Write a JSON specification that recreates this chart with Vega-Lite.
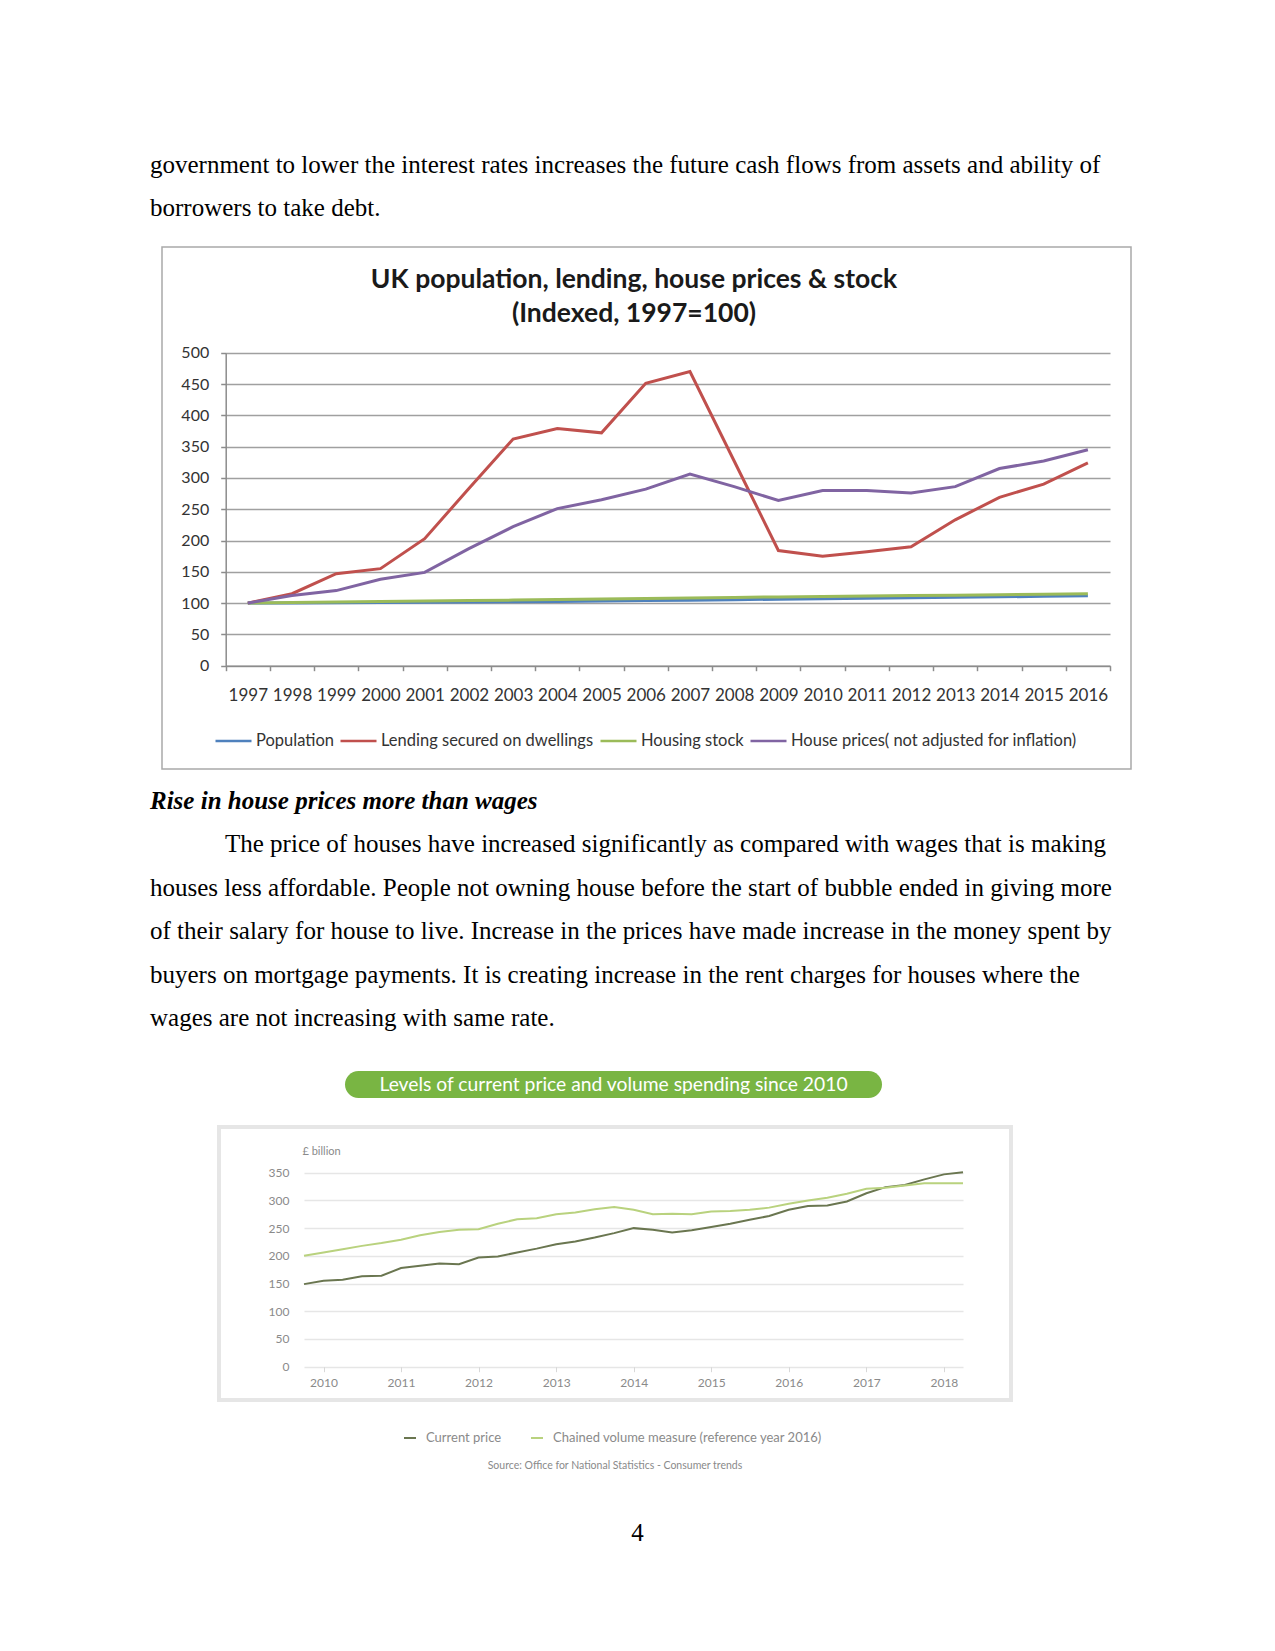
{
  "$schema": "https://vega.github.io/schema/vega-lite/v6.json",
  "padding": 0,
  "background": "white",
  "config": {"view": {"stroke": null}},
  "spacing": 0,
  "bounds": "full",
  "resolve": {"scale": {"color": "independent"}, "legend": {"color": "independent"}},
  "vconcat": [
    {
      "width": 1275, "height": 246,
      "data": {"values": [{}]},
      "mark": {"type": "text"},
      "encoding": {"text": {"value": ""}},
      "title": {
        "text": ["government to lower the interest rates increases the future cash flows from assets and ability of", "borrowers to take debt."],
        "anchor": "start", "frame": "group", "orient": "top", "offset": 0, "baseline": "top",
        "dx": 150, "dy": 221,
        "font": "Liberation Serif", "fontSize": 25, "fontWeight": "normal", "color": "#000000", "lineHeight": 43.5
      }
    },
    {
      "spacing": 0, "bounds": "flush",
      "resolve": {"scale": {"color": "independent"}, "legend": {"color": "independent"}},
      "hconcat": [
        {"width": 162, "height": 522, "data": {"values": [{}]}, "mark": {"type": "text"}, "encoding": {"text": {"value": ""}}},
        {
          "width": 969, "height": 522,
          "view": {"stroke": "#a9a9a9", "strokeWidth": 1.5},
          "title": {
            "text": ["UK population,  lending, house prices & stock", "(Indexed, 1997=100)"],
            "anchor": "middle", "frame": "group", "orient": "top", "offset": 0, "baseline": "top",
            "dx": -12.5, "dy": 80.5,
            "font": "Lato", "fontSize": 26.5, "fontWeight": "bold", "color": "#1a1a1a", "lineHeight": 34
          },
          "data": {"values": [
            {"year": 1997, "Population": 100, "Lending secured on dwellings": 100, "Housing stock": 100, "House prices( not adjusted for inflation)": 100},
            {"year": 1998, "Population": 100.3, "Lending secured on dwellings": 115, "Housing stock": 100.8, "House prices( not adjusted for inflation)": 112},
            {"year": 1999, "Population": 100.7, "Lending secured on dwellings": 147, "Housing stock": 101.6, "House prices( not adjusted for inflation)": 120},
            {"year": 2000, "Population": 101.0, "Lending secured on dwellings": 155, "Housing stock": 102.4, "House prices( not adjusted for inflation)": 138},
            {"year": 2001, "Population": 101.4, "Lending secured on dwellings": 203, "Housing stock": 103.2, "House prices( not adjusted for inflation)": 149},
            {"year": 2002, "Population": 101.8, "Lending secured on dwellings": 283, "Housing stock": 104.0, "House prices( not adjusted for inflation)": 187},
            {"year": 2003, "Population": 102.2, "Lending secured on dwellings": 362, "Housing stock": 104.8, "House prices( not adjusted for inflation)": 222},
            {"year": 2004, "Population": 102.7, "Lending secured on dwellings": 379, "Housing stock": 105.6, "House prices( not adjusted for inflation)": 251},
            {"year": 2005, "Population": 103.3, "Lending secured on dwellings": 372, "Housing stock": 106.4, "House prices( not adjusted for inflation)": 265},
            {"year": 2006, "Population": 104.0, "Lending secured on dwellings": 451, "Housing stock": 107.3, "House prices( not adjusted for inflation)": 282},
            {"year": 2007, "Population": 104.7, "Lending secured on dwellings": 470, "Housing stock": 108.2, "House prices( not adjusted for inflation)": 306},
            {"year": 2008, "Population": 105.5, "Lending secured on dwellings": 327, "Housing stock": 109.1, "House prices( not adjusted for inflation)": 286},
            {"year": 2009, "Population": 106.2, "Lending secured on dwellings": 184, "Housing stock": 109.9, "House prices( not adjusted for inflation)": 264},
            {"year": 2010, "Population": 107.0, "Lending secured on dwellings": 175, "Housing stock": 110.6, "House prices( not adjusted for inflation)": 280},
            {"year": 2011, "Population": 107.8, "Lending secured on dwellings": 182, "Housing stock": 111.3, "House prices( not adjusted for inflation)": 280},
            {"year": 2012, "Population": 108.5, "Lending secured on dwellings": 190, "Housing stock": 112.0, "House prices( not adjusted for inflation)": 276},
            {"year": 2013, "Population": 109.2, "Lending secured on dwellings": 233, "Housing stock": 112.7, "House prices( not adjusted for inflation)": 286},
            {"year": 2014, "Population": 110.0, "Lending secured on dwellings": 269, "Housing stock": 113.4, "House prices( not adjusted for inflation)": 315},
            {"year": 2015, "Population": 110.9, "Lending secured on dwellings": 290, "Housing stock": 114.2, "House prices( not adjusted for inflation)": 327},
            {"year": 2016, "Population": 111.8, "Lending secured on dwellings": 324, "Housing stock": 115.0, "House prices( not adjusted for inflation)": 345}
          ]},
          "transform": [{"fold": ["Population", "Lending secured on dwellings", "Housing stock", "House prices( not adjusted for inflation)"], "as": ["series", "value"]}],
          "mark": {"type": "line", "strokeWidth": 3},
          "encoding": {
            "x": {
              "field": "year", "type": "ordinal", "bandPosition": 0.5,
              "scale": {"type": "band", "range": [63.7, 948], "paddingInner": 0, "paddingOuter": 0},
              "axis": {"orient": "bottom", "offset": -103.3, "tickBand": "extent", "title": null, "labelAngle": 0,
                       "labelFont": "Lato", "labelFontSize": 17, "labelColor": "#333333", "labelPadding": 17,
                       "tickSize": 5, "tickColor": "#8c8c8c", "tickWidth": 1.5, "domainColor": "#8c8c8c", "domainWidth": 1.5, "grid": false}
            },
            "y": {
              "field": "value", "type": "quantitative",
              "scale": {"domain": [0, 500], "range": [418.7, 105.7], "nice": false},
              "axis": {"orient": "left", "offset": -63.7, "values": [0, 50, 100, 150, 200, 250, 300, 350, 400, 450, 500], "title": null,
                       "labelFont": "Lato", "labelFontSize": 16, "labelColor": "#333333", "labelPadding": 12,
                       "tickSize": 5, "tickColor": "#8c8c8c", "tickWidth": 1.5, "domainColor": "#8c8c8c", "domainWidth": 1.5,
                       "grid": true, "gridColor": "#a0a0a0", "gridWidth": 1.5}
            },
            "color": {
              "field": "series", "type": "nominal",
              "scale": {"domain": ["Population", "Lending secured on dwellings", "Housing stock", "House prices( not adjusted for inflation)"],
                        "range": ["#4F81BD", "#C0504D", "#9BBB59", "#8064A2"]},
              "legend": {"orient": "none", "legendX": 52, "legendY": 474.5, "direction": "horizontal", "title": null,
                         "symbolType": "stroke", "symbolSize": 1296, "symbolStrokeWidth": 2.5,
                         "labelFont": "Lato", "labelFontSize": 16.5, "labelColor": "#333333", "labelOffset": 3, "columnPadding": 1, "labelLimit": 400}
            }
          }
        }
      ]
    },
    {
      "width": 1275, "height": 301,
      "data": {"values": [{}]},
      "mark": {"type": "text"},
      "encoding": {"text": {"value": ""}},
      "title": {
        "text": "Rise in house prices more than wages",
        "subtitle": [
          "\u200b\u00a0\u00a0\u00a0\u00a0\u00a0\u00a0\u00a0\u00a0\u00a0\u00a0\u00a0\u00a0The price of houses have increased significantly as compared with wages that is making",
          "houses less affordable. People not owning house before the start of bubble ended in giving more",
          "of their salary for house to live. Increase in the prices have made increase in the money spent by",
          "buyers on mortgage payments. It is creating increase in the rent charges for houses where the",
          "wages are not increasing with same rate."
        ],
        "anchor": "start", "frame": "group", "orient": "top", "offset": 0, "baseline": "top",
        "dx": 150, "dy": 261,
        "font": "Liberation Serif", "fontSize": 25, "fontWeight": "bold", "fontStyle": "italic", "color": "#000000",
        "subtitleFont": "Liberation Serif", "subtitleFontSize": 25, "subtitleFontWeight": "normal", "subtitleFontStyle": "normal",
        "subtitleColor": "#000000", "subtitleLineHeight": 43.5, "subtitlePadding": 18
      }
    },
    {
      "spacing": 0, "bounds": "flush",
      "hconcat": [
        {"width": 345, "height": 27, "data": {"values": [{}]}, "mark": {"type": "text"}, "encoding": {"text": {"value": ""}}},
        {
          "width": 537, "height": 27,
          "view": {"fill": "#79b543", "stroke": null, "cornerRadius": 13.5},
          "data": {"values": [{"label": "Levels of current price and volume spending since 2010"}]},
          "mark": {"type": "text", "font": "Lato", "fontSize": 19.3, "color": "#ffffff"},
          "encoding": {"text": {"field": "label", "type": "nominal"}}
        }
      ]
    },
    {"width": 1, "height": 27, "data": {"values": [{}]}, "mark": {"type": "text"}, "encoding": {"text": {"value": ""}}},
    {
      "spacing": 0, "bounds": "flush",
      "resolve": {"scale": {"color": "independent"}, "legend": {"color": "independent"}},
      "hconcat": [
        {"width": 219, "height": 273, "data": {"values": [{}]}, "mark": {"type": "text"}, "encoding": {"text": {"value": ""}}},
        {
          "width": 792, "height": 273,
          "view": {"stroke": "#e6e6e6", "strokeWidth": 4},
          "title": {
            "text": "Source: Office for National Statistics - Consumer trends",
            "orient": "bottom", "anchor": "middle", "frame": "group", "offset": 16, "baseline": "top",
            "font": "Lato", "fontSize": 10.5, "fontWeight": "normal", "color": "#8a8a8a"
          },
          "data": {"values": [
            {"date": "2009-10-01", "Current price": 149, "Chained volume measure (reference year 2016)": 200},
            {"date": "2010-01-01", "Current price": 155, "Chained volume measure (reference year 2016)": 206},
            {"date": "2010-04-01", "Current price": 157, "Chained volume measure (reference year 2016)": 212},
            {"date": "2010-07-01", "Current price": 163, "Chained volume measure (reference year 2016)": 218},
            {"date": "2010-10-01", "Current price": 164, "Chained volume measure (reference year 2016)": 223},
            {"date": "2011-01-01", "Current price": 178, "Chained volume measure (reference year 2016)": 229},
            {"date": "2011-04-01", "Current price": 182, "Chained volume measure (reference year 2016)": 237},
            {"date": "2011-07-01", "Current price": 186, "Chained volume measure (reference year 2016)": 243},
            {"date": "2011-10-01", "Current price": 185, "Chained volume measure (reference year 2016)": 247},
            {"date": "2012-01-01", "Current price": 197, "Chained volume measure (reference year 2016)": 248},
            {"date": "2012-04-01", "Current price": 199, "Chained volume measure (reference year 2016)": 258},
            {"date": "2012-07-01", "Current price": 206, "Chained volume measure (reference year 2016)": 266},
            {"date": "2012-10-01", "Current price": 213, "Chained volume measure (reference year 2016)": 268},
            {"date": "2013-01-01", "Current price": 221, "Chained volume measure (reference year 2016)": 275},
            {"date": "2013-04-01", "Current price": 226, "Chained volume measure (reference year 2016)": 278},
            {"date": "2013-07-01", "Current price": 233, "Chained volume measure (reference year 2016)": 284},
            {"date": "2013-10-01", "Current price": 241, "Chained volume measure (reference year 2016)": 288},
            {"date": "2014-01-01", "Current price": 250, "Chained volume measure (reference year 2016)": 283},
            {"date": "2014-04-01", "Current price": 247, "Chained volume measure (reference year 2016)": 275},
            {"date": "2014-07-01", "Current price": 242, "Chained volume measure (reference year 2016)": 276},
            {"date": "2014-10-01", "Current price": 246, "Chained volume measure (reference year 2016)": 275},
            {"date": "2015-01-01", "Current price": 252, "Chained volume measure (reference year 2016)": 280},
            {"date": "2015-04-01", "Current price": 258, "Chained volume measure (reference year 2016)": 281},
            {"date": "2015-07-01", "Current price": 265, "Chained volume measure (reference year 2016)": 283},
            {"date": "2015-10-01", "Current price": 272, "Chained volume measure (reference year 2016)": 287},
            {"date": "2016-01-01", "Current price": 283, "Chained volume measure (reference year 2016)": 294},
            {"date": "2016-04-01", "Current price": 290, "Chained volume measure (reference year 2016)": 300},
            {"date": "2016-07-01", "Current price": 291, "Chained volume measure (reference year 2016)": 305},
            {"date": "2016-10-01", "Current price": 298, "Chained volume measure (reference year 2016)": 312},
            {"date": "2017-01-01", "Current price": 313, "Chained volume measure (reference year 2016)": 321},
            {"date": "2017-04-01", "Current price": 324, "Chained volume measure (reference year 2016)": 323},
            {"date": "2017-07-01", "Current price": 328, "Chained volume measure (reference year 2016)": 327},
            {"date": "2017-10-01", "Current price": 338, "Chained volume measure (reference year 2016)": 331},
            {"date": "2018-01-01", "Current price": 347, "Chained volume measure (reference year 2016)": 331},
            {"date": "2018-04-01", "Current price": 351, "Chained volume measure (reference year 2016)": 331}
          ]},
          "transform": [{"fold": ["Current price", "Chained volume measure (reference year 2016)"], "as": ["series", "value"]}],
          "mark": {"type": "line", "strokeWidth": 2},
          "encoding": {
            "x": {
              "field": "date", "type": "temporal",
              "scale": {"domain": ["2009-10-01", "2018-04-01"], "range": [85, 744], "nice": false},
              "axis": {"orient": "bottom", "offset": -33.3, "format": "%Y", "tickCount": {"interval": "year", "step": 1}, "title": null,
                       "domain": false, "ticks": true, "tickSize": 5, "tickColor": "#d8d8d8", "grid": false,
                       "labelFont": "Lato", "labelFontSize": 12, "labelColor": "#8a8a8a", "labelPadding": 6, "labelFlush": false, "labelOverlap": false}
            },
            "y": {
              "field": "value", "type": "quantitative",
              "scale": {"domain": [0, 350], "range": [239.7, 45.7], "nice": false},
              "axis": {"orient": "left", "offset": -85, "values": [0, 50, 100, 150, 200, 250, 300, 350],
                       "title": "£ billion", "titleAngle": 0, "titleAlign": "left", "titleBaseline": "middle", "titleX": -2, "titleY": 24,
                       "titleFont": "Lato", "titleFontSize": 11, "titleFontWeight": "normal", "titleColor": "#8a8a8a",
                       "domain": false, "ticks": false, "labelFont": "Lato", "labelFontSize": 12, "labelColor": "#8a8a8a", "labelPadding": 15,
                       "grid": true, "gridColor": "#e6e6e6", "gridWidth": 1.5}
            },
            "color": {
              "field": "series", "type": "nominal",
              "scale": {"domain": ["Current price", "Chained volume measure (reference year 2016)"], "range": ["#6a7650", "#b9d27e"]},
              "legend": {"orient": "none", "legendX": 184, "legendY": 304, "direction": "horizontal", "title": null,
                         "symbolType": "stroke", "symbolSize": 144, "symbolStrokeWidth": 2,
                         "labelFont": "Lato", "labelFontSize": 13, "labelColor": "#8a8a8a", "labelOffset": 9, "columnPadding": 25, "labelLimit": 400}
            }
          }
        }
      ]
    },
    {
      "width": 1275, "height": 167,
      "data": {"values": [{}]},
      "mark": {"type": "text"},
      "encoding": {"text": {"value": ""}},
      "title": {
        "text": "4", "anchor": "middle", "frame": "group", "orient": "top", "offset": 0, "baseline": "top", "dy": 72,
        "font": "Liberation Serif", "fontSize": 25, "fontWeight": "normal", "color": "#000000"
      }
    }
  ]
}
